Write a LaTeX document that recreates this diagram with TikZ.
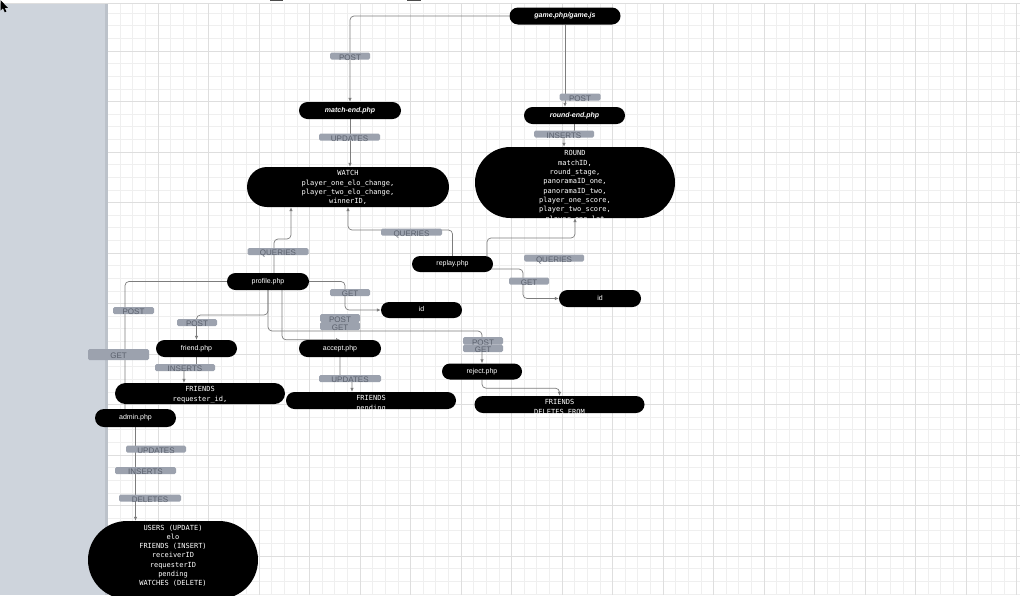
\documentclass[tikz,border=0pt]{standalone}
\usepackage{fontspec}
\setmainfont{Liberation Sans}
\newfontfamily\monofont{DejaVu Sans Mono}
\usetikzlibrary{arrows.meta}
\usetikzlibrary{positioning}
\pgfdeclarelayer{grid}
\pgfdeclarelayer{wires}
\pgfsetlayers{grid,wires,main}

\definecolor{panelgray}{RGB}{206,212,220}
\definecolor{paneledge}{RGB}{188,194,202}
\definecolor{gridminor}{RGB}{239,239,239}
\definecolor{gridmajor}{RGB}{222,222,222}
\definecolor{wire}{RGB}{125,125,125}
\definecolor{lblfill}{RGB}{156,162,174}
\definecolor{lbltext}{RGB}{90,96,108}

\newcommand{\lbltxt}[1]{\raisebox{-4.35pt}[0pt][0pt]{#1}}

\begin{document}
\begin{tikzpicture}[x=1pt,y=-1pt]

\tikzstyle{php}=[rectangle, rounded corners=8.5pt, fill=black, text=white, inner sep=0pt, minimum width=81pt, minimum height=17pt, text height=5.1pt, text depth=1.5pt, font=\fontsize{7}{8}\selectfont]
\tikzstyle{phpmain}=[php, font=\fontsize{7}{8}\selectfont\bfseries\itshape]
\tikzstyle{tabletext}=[text=white, fill=none, draw=none, align=center, inner sep=0pt, minimum width=0pt, minimum height=0pt, anchor=north, font=\monofont\fontsize{7}{9.3}\selectfont]
\tikzset{dbtable/.style 2 args={rectangle, fill=black, inner sep=0pt, path picture={\node[tabletext] (#1) at ([yshift=-3.5pt]path picture bounding box.north) {#2};}}}
\tikzstyle{method}=[rectangle, rounded corners=1.5pt, fill=lblfill, text=lbltext, inner sep=0pt, minimum height=7pt, minimum width=40pt, font=\fontsize{8}{9}\selectfont]
\tikzstyle{connect}=[draw=wire, line width=0.7pt, rounded corners=4pt]
\tikzstyle{connectarr}=[connect, -{Latex[length=4pt,width=3.6pt]}]

\useasboundingbox (0,0) rectangle (1020,595);

% canvas
\begin{pgfonlayer}{grid}
\fill[white] (0,0) rectangle (1020,595);
\foreach \i in {0,...,72}
  \draw[gridminor, line width=0.7pt] ({107.5+12.625*\i},3) -- ({107.5+12.625*\i},595);
\foreach \j in {1,...,47}
  \draw[gridminor, line width=0.7pt] (107.5,{0.5+12.625*\j}) -- (1020,{0.5+12.625*\j});
\foreach \i in {0,4,...,72}
  \draw[gridmajor, line width=0.7pt] ({107.5+12.625*\i},3) -- ({107.5+12.625*\i},595);
\foreach \j in {4,8,...,44}
  \draw[gridmajor, line width=0.7pt] (107.5,{0.5+12.625*\j}) -- (1020,{0.5+12.625*\j});
\fill[panelgray] (0,3) rectangle (105,595);
\fill[paneledge] (105,3) rectangle (108,595);
\draw[gridmajor, line width=0.8pt] (0,3) -- (1020,3);
\fill[black!70] (270,0) rectangle (283,1.2);
\fill[black!70] (407,0) rectangle (421,1.2);
\fill[black] (0.5,0) -- (0.5,10.5) -- (3,8.3) -- (4.8,12.3) -- (6.4,11.6) -- (4.7,7.8) -- (7.8,7.8) -- cycle;
\end{pgfonlayer}

% pages
\node[phpmain, minimum width=111pt] (game) at (565,16) {game.php/game.js};
\node[phpmain, minimum width=102pt] (matchend) at (350,110.5) {match-end.php};
\node[phpmain, minimum width=101pt] (roundend) at (574.5,115.5) {round-end.php};

\node[php, minimum height=16pt, rounded corners=8pt] (replay) at (452.5,264) {replay.php};
\node[php, minimum width=82pt] (idright) at (600,298.5) {id};
\node[php, minimum width=82pt] (profile) at (268,281.5) {profile.php};
\node[php, minimum height=16pt, rounded corners=8pt] (idmid) at (421.5,310) {id};
\node[php] (friend) at (196.5,348.5) {friend.php};
\node[php, minimum width=82pt] (accept) at (340,348.5) {accept.php};
\node[php, minimum width=80pt, minimum height=16pt, rounded corners=8pt] (reject) at (482,371.5) {reject.php};
\node[php, minimum height=18pt, rounded corners=9pt] (admin) at (135.5,418) {admin.php};

% tables
\node[dbtable={watchtext}{WATCH\\player\_one\_elo\_change,\\player\_two\_elo\_change,\\winnerID,}, minimum width=202pt, minimum height=40pt, rounded corners=20pt] (watch) at (348,187) {};
\node[dbtable={roundtext}{ROUND\\matchID,\\round\_stage,\\panoramaID\_one,\\panoramaID\_two,\\player\_one\_score,\\player\_two\_score,\\player\_one\_lat}, minimum width=200pt, minimum height=71pt, rounded corners=35.5pt] (round) at (575,182.5) {};
\node[dbtable={friendsreqtext}{FRIENDS\\requester\_id,}, minimum width=170pt, minimum height=21pt, rounded corners=10.5pt] (friendsreq) at (200,393.5) {};
\node[dbtable={friendspendtext}{FRIENDS\\pending}, minimum width=170pt, minimum height=17pt, rounded corners=8.5pt] (friendspend) at (371,400.5) {};
\node[dbtable={friendsdeltext}{FRIENDS\\DELETES FROM}, minimum width=170pt, minimum height=17pt, rounded corners=8.5pt] (friendsdel) at (559.5,404.5) {};
\node[dbtable={userstext}{USERS (UPDATE)\\elo\\FRIENDS (INSERT)\\receiverID\\requesterID\\pending\\WATCHES (DELETE)}, minimum width=170pt, minimum height=78pt, rounded corners=39pt] (users) at (173,560) {};

% request labels
\node[method] (postmatch) at (350,56) {\lbltxt{POST}};
\node[method, minimum width=41pt] (postround) at (580,97) {\lbltxt{POST}};
\node[method, minimum width=61pt] (updmatch) at (349.5,137) {\lbltxt{UPDATES}};
\node[method, minimum width=60pt] (insround) at (564,134) {\lbltxt{INSERTS}};
\node[method, minimum width=61pt] (qryreplay) at (411.5,232) {\lbltxt{QUERIES}};
\node[method, minimum width=61pt] (qryprofile) at (278,251.5) {\lbltxt{QUERIES}};
\node[method, minimum width=60pt] (qryround) at (554,258) {\lbltxt{QUERIES}};
\node[method] (getreplay) at (529,281) {\lbltxt{GET}};
\node[method] (getprofile) at (350,292.5) {\lbltxt{GET}};
\node[method] (postfriend) at (197,322.5) {\lbltxt{POST}};
\node[method, minimum height=8pt] (postaccept) at (340,318) {\lbltxt{POST}};
\node[method, minimum height=8pt] (getaccept) at (340,326) {\lbltxt{GET}};
\node[method, minimum height=7.5pt] (postreject) at (483,340.75) {\lbltxt{POST}};
\node[method, minimum height=7.5pt] (getreject) at (483,348.25) {\lbltxt{GET}};
\node[method, minimum width=41pt] (postadmin) at (133.5,310.5) {\lbltxt{POST}};
\node[method, minimum width=61pt, minimum height=11pt] (getadmin) at (118.5,354.5) {\lbltxt{GET}};
\node[method, minimum width=60pt] (insfriend) at (185,367.5) {\lbltxt{INSERTS}};
\node[method, minimum width=62pt] (updaccept) at (350,378.5) {\lbltxt{UPDATES}};
\node[method, minimum width=60pt] (updadmin) at (156,449) {\lbltxt{UPDATES}};
\node[method, minimum width=61pt] (insadmin) at (145.5,470.5) {\lbltxt{INSERTS}};
\node[method, minimum width=62pt] (deladmin) at (150,498) {\lbltxt{DELETES}};

% bends
\coordinate (ri) at (564,134);
\coordinate (qr) at (348,230);
\coordinate (rp1) at (487,256.5);
\coordinate (rq) at (575,238);
\coordinate (rp2) at (491,269);
\coordinate (g1) at (523,269);
\coordinate (pf1) at (274,273);
\coordinate (pq) at (291,239);
\coordinate (g2) at (345,281.5);
\coordinate (pp) at (268,315);
\coordinate (rj) at (482,331);
\coordinate (pf2) at (282,290);
\coordinate (ad) at (125,409);
\coordinate (fi) at (184,367.5);
\coordinate (au) at (352,378.5);

\begin{pgfonlayer}{wires}
\draw[connectarr] (game.west) -| (matchend.north);
\draw[connectarr] (game.south) -- (game.south |- roundend.north);
\draw[connectarr] (matchend.south) -- (matchend.south |- watch.north);
\draw[connectarr] (roundend.south) |- (ri) -- (ri |- round.north);

\draw[connectarr] (replay.north) |- (qr) -- (watch.south);
\draw[connectarr] (rp1) |- (rq) -- (round.south);
\draw[connectarr] (rp2) -- (g1) |- (idright.west);

\draw[connectarr] (pf1) |- (pq) -- (pq |- watch.south);
\draw[connectarr] (profile.east) -- (g2) |- (idmid.west);
\draw[connectarr] (profile.south) -- (pp) -| (friend.north);
\draw[connectarr] (profile.south) |- (rj) -- (reject.north);
\draw[connectarr] (pf2) |- (accept.north);
\draw[connect] (profile.west) -| (ad);

\draw[connectarr] (friend.south) |- (fi) -- (fi |- friendsreq.north);
\draw[connectarr] (accept.south) |- (au) -- (au |- friendspend.north);
\draw[connectarr] (reject.south) -- ++(0,8.5) -| (friendsdel.north);
\draw[connectarr] (admin.south) -- (admin.south |- users.north);
\end{pgfonlayer}

\end{tikzpicture}
\end{document}
